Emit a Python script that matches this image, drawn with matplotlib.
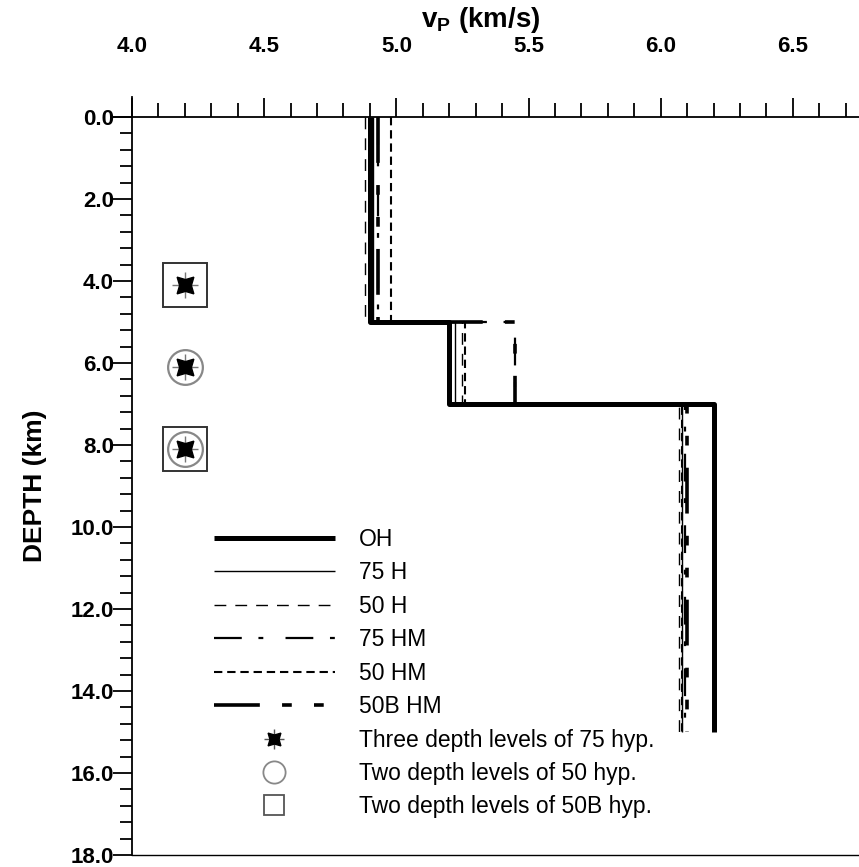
import matplotlib
matplotlib.use("Agg")
import matplotlib.pyplot as plt
from matplotlib.lines import Line2D
from matplotlib.ticker import MultipleLocator, FormatStrFormatter

plt.rcParams["font.family"] = ["Liberation Sans", "DejaVu Sans"]
plt.rcParams["mathtext.fontset"] = "custom"
plt.rcParams["mathtext.rm"] = "Liberation Sans"
plt.rcParams["mathtext.bf"] = "Liberation Sans:bold"
plt.rcParams["lines.scale_dashes"] = False

# layer boundaries (km) and P velocities (km/s) for each model
depths = [0.0, 5.0, 7.0, 15.0]
models = ["OH", "75 H", "50 H", "75 HM", "50 HM", "50B HM"]
vp_OH = [4.90, 5.20, 6.20]
vp_75H = [4.91, 5.22, 6.08]
vp_50H = [4.88, 5.25, 6.07]
vp_75HM = [4.93, 5.45, 6.09]
vp_50HM = [4.98, 5.26, 6.08]
vp_50BHM = [4.93, 5.45, 6.10]

# hypocentre depth levels
hyp_x = 4.2
hyp75_depth = [4.1, 6.1, 8.1]
hyp50_depth = [6.1, 8.1]
hyp50B_depth = [4.1, 8.1]

styles = {
    "OH": dict(color="black", lw=3.6, linestyle="-"),
    "75 H": dict(color="black", lw=1.0, linestyle="-"),
    "50 H": dict(color="black", lw=1.0, linestyle=(0, (8.5, 6.5))),
    "75 HM": dict(color="black", lw=1.6, linestyle=(0, (20, 12, 3.5, 16))),
    "50 HM": dict(color="black", lw=1.5, linestyle=(0, (6, 3.5))),
    "50B HM": dict(color="black", lw=2.6, linestyle=(0, (33, 16, 7, 16, 7, 16))),
}


def step_xy(vp):
    xs, ys = [], []
    for i, v in enumerate(vp):
        xs += [v, v]
        ys += [depths[i], depths[i + 1]]
    return xs, ys


fig = plt.figure(figsize=(8.59, 8.67), dpi=100)
ax = fig.add_axes([132 / 859, 1 - 855 / 867, 1 - 132 / 859, (855 - 117) / 867])

handles = []
for name, vp in zip(models, [vp_OH, vp_75H, vp_50H, vp_75HM, vp_50HM, vp_50BHM]):
    xs, ys = step_xy(vp)
    ln, = ax.plot(xs, ys, solid_capstyle="butt", dash_capstyle="butt", **styles[name], label=name)
    handles.append(ln)

# markers
ax.plot([hyp_x] * len(hyp50B_depth), hyp50B_depth, "s", ms=31, mfc="none", mec="#333333", mew=1.4, ls="none")
ax.plot([hyp_x] * len(hyp50_depth), hyp50_depth, "o", ms=25, mfc="none", mec="#888888", mew=1.6, ls="none")
ax.plot([hyp_x] * len(hyp75_depth), hyp75_depth, "+", ms=19, mec="#777777", mew=1.0, ls="none")
ax.plot([hyp_x] * len(hyp75_depth), hyp75_depth, marker=(4, 1, 45), ms=17, color="black", ls="none")

# legend proxies
star_plus = Line2D([], [], marker="+", ms=15, mec="#555555", mew=1.0, ls="none")
star_core = Line2D([], [], marker=(4, 1, 45), ms=13, color="black", ls="none")
circ = Line2D([], [], marker="o", ms=16, mfc="none", mec="#888888", mew=1.3, ls="none")
sq = Line2D([], [], marker="s", ms=15, mfc="none", mec="#555555", mew=1.3, ls="none")
handles += [(star_plus, star_core), circ, sq]
labels = models + ["Three depth levels of 75 hyp.",
                   "Two depth levels of 50 hyp.",
                   "Two depth levels of 50B hyp."]
ax.legend(handles, labels, loc="upper left", bbox_to_anchor=(214 / 859, 1 - 528 / 867),
          bbox_transform=fig.transFigure, frameon=False, fontsize=16.5,
          handlelength=5.27, handletextpad=1.05, labelspacing=0.455, borderpad=0, borderaxespad=0)

# axes
ax.set_xlim(4.0, 6.75)
ax.set_ylim(18.0, 0.0)
ax.xaxis.tick_top()
ax.xaxis.set_label_position("top")
ax.xaxis.set_major_locator(MultipleLocator(0.5))
ax.xaxis.set_minor_locator(MultipleLocator(0.1))
ax.xaxis.set_major_formatter(FormatStrFormatter("%.1f"))
ax.yaxis.set_major_locator(MultipleLocator(2.0))
ax.yaxis.set_minor_locator(MultipleLocator(0.4))
ax.yaxis.set_major_formatter(FormatStrFormatter("%.1f"))
ax.tick_params(axis="x", which="major", direction="out", length=14, width=1.3, pad=29, labelsize=16)
ax.tick_params(axis="x", which="minor", direction="out", length=10, width=1.3)
ax.tick_params(axis="y", which="major", direction="out", length=14, width=1.3, pad=-1, labelsize=16)
ax.tick_params(axis="y", which="minor", direction="out", length=8.5, width=1.3)
for lab in ax.get_xticklabels() + ax.get_yticklabels():
    lab.set_fontweight("bold")

ax.spines["right"].set_visible(False)
for s in ["top", "left", "bottom"]:
    ax.spines[s].set_linewidth(1.3)
ax.spines["top"].set_bounds(3.925, 6.75)
ax.spines["left"].set_bounds(-0.5, 18.0)
ax.spines["bottom"].set_linewidth(1.0)

ax.set_xlabel(r"$\mathbf{v}_\mathbf{P}$ (km/s)", fontsize=20, fontweight="bold")
ax.xaxis.set_label_coords(0.48, 1.122)
ax.set_ylabel("DEPTH (km)", fontsize=19, fontweight="bold", labelpad=17)

fig.savefig("out.png", dpi=100)
